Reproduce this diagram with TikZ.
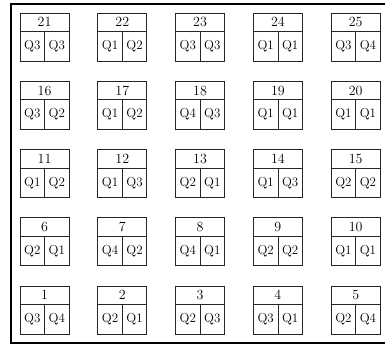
\documentclass[tikz,border=0pt]{standalone}
\usepackage{tikz}
\begin{document}
\begin{tikzpicture}[x=1pt,y=-1pt,
  numcell/.style={draw=black!85,line width=0.8pt,minimum width=49pt,minimum height=18.5pt,inner sep=0pt,outer sep=0pt,anchor=north west,font=\fontsize{14}{14}\selectfont},
  qcell/.style={draw=black!85,line width=0.8pt,minimum width=24.5pt,minimum height=29.5pt,inner sep=0pt,outer sep=0pt,anchor=north west,font=\fontsize{13}{13}\selectfont},
  frame/.style={draw=black,line width=1.6pt}]
\useasboundingbox (0,0) rectangle (385,345);
\draw[frame] (10.8,3.8) rectangle (400,343);
\foreach \n/\qa/\qb [count=\i from 0] in {
  1/Q3/Q4,2/Q2/Q1,3/Q2/Q3,4/Q3/Q1,5/Q2/Q4,
  6/Q2/Q1,7/Q4/Q2,8/Q4/Q1,9/Q2/Q2,10/Q1/Q1,
  11/Q1/Q2,12/Q1/Q3,13/Q2/Q1,14/Q1/Q3,15/Q2/Q2,
  16/Q3/Q2,17/Q1/Q2,18/Q4/Q3,19/Q1/Q1,20/Q1/Q1,
  21/Q3/Q3,22/Q1/Q2,23/Q3/Q3,24/Q1/Q1,25/Q3/Q4}{
  \pgfmathsetmacro{\cx}{20+77.8*mod(\i,5)}
  \pgfmathsetmacro{\cy}{286-68.25*floor(\i/5)}
  \node[numcell] (n\n) at (\cx,\cy) {\n};
  \node[qcell] (a\n) at (n\n.south west) {\qa};
  \node[qcell] (b\n) at (a\n.north east) {\qb};
}
\end{tikzpicture}
\end{document}
